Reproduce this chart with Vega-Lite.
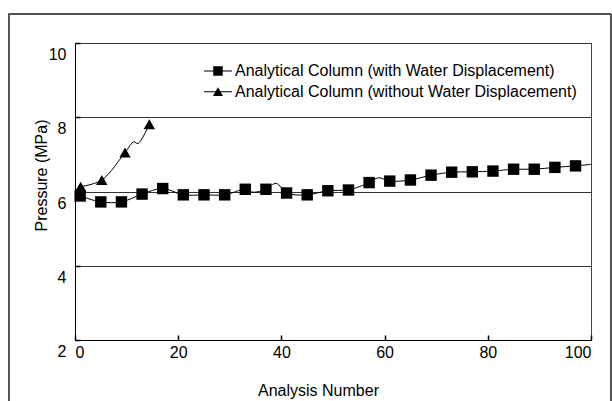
{
  "$schema": "https://vega.github.io/schema/vega-lite/v6.json",
  "width": 516,
  "height": 297,
  "autosize": {"type": "none"},
  "padding": {"left": 75, "top": 43, "right": 21, "bottom": 61},
  "background": "white",
  "config": {
    "font": "Liberation Sans",
    "view": {"stroke": "#444", "strokeWidth": 1},
    "axis": {
      "labelFont": "Liberation Sans",
      "titleFont": "Liberation Sans",
      "labelFontSize": 16,
      "titleFontSize": 16,
      "labelColor": "black",
      "titleColor": "black",
      "titleFontWeight": "normal",
      "domainColor": "black",
      "tickColor": "black",
      "labelOverlap": false
    }
  },
  "data": {
    "values": [
      {"series": "with", "n": 1, "p": 5.88, "m": 1},
      {"series": "with", "n": 5, "p": 5.72, "m": 1},
      {"series": "with", "n": 9, "p": 5.72, "m": 1},
      {"series": "with", "n": 13, "p": 5.93, "m": 1},
      {"series": "with", "n": 17, "p": 6.08, "m": 1},
      {"series": "with", "n": 21, "p": 5.91, "m": 1},
      {"series": "with", "n": 25, "p": 5.91, "m": 1},
      {"series": "with", "n": 29, "p": 5.91, "m": 1},
      {"series": "with", "n": 33, "p": 6.06, "m": 1},
      {"series": "with", "n": 34.5, "p": 5.98, "m": 0},
      {"series": "with", "n": 37, "p": 6.06, "m": 1},
      {"series": "with", "n": 39, "p": 6.22, "m": 0},
      {"series": "with", "n": 41, "p": 5.96, "m": 1},
      {"series": "with", "n": 45, "p": 5.91, "m": 1},
      {"series": "with", "n": 49, "p": 6.02, "m": 1},
      {"series": "with", "n": 53, "p": 6.04, "m": 1},
      {"series": "with", "n": 54.5, "p": 6.1, "m": 0},
      {"series": "with", "n": 57, "p": 6.24, "m": 1},
      {"series": "with", "n": 58.8, "p": 6.37, "m": 0},
      {"series": "with", "n": 61, "p": 6.28, "m": 1},
      {"series": "with", "n": 65, "p": 6.31, "m": 1},
      {"series": "with", "n": 69, "p": 6.44, "m": 1},
      {"series": "with", "n": 73, "p": 6.52, "m": 1},
      {"series": "with", "n": 77, "p": 6.53, "m": 1},
      {"series": "with", "n": 81, "p": 6.55, "m": 1},
      {"series": "with", "n": 85, "p": 6.6, "m": 1},
      {"series": "with", "n": 89, "p": 6.6, "m": 1},
      {"series": "with", "n": 93, "p": 6.65, "m": 1},
      {"series": "with", "n": 97, "p": 6.69, "m": 1},
      {"series": "with", "n": 100, "p": 6.73, "m": 0},
      {"series": "without", "n": 1.1, "p": 6.13, "m": 1},
      {"series": "without", "n": 5.2, "p": 6.31, "m": 1},
      {"series": "without", "n": 9.7, "p": 7.05, "m": 1},
      {"series": "without", "n": 11.4, "p": 7.34, "m": 0},
      {"series": "without", "n": 12.2, "p": 7.29, "m": 0},
      {"series": "without", "n": 14.4, "p": 7.81, "m": 1}
    ]
  },
  "layer": [
    {
      "mark": {"type": "rect", "fill": "transparent", "stroke": "#555", "strokeWidth": 1, "clip": false},
      "encoding": {
        "x": {"datum": -12.8, "type": "quantitative", "scale": {"domain": [0, 100], "nice": false, "zero": false}},
        "x2": {"datum": 103.8},
        "y": {"datum": 10.78, "type": "quantitative", "scale": {"domain": [2, 10], "nice": false, "zero": false}},
        "y2": {"datum": 0}
      }
    },
    {
      "mark": {"type": "line", "color": "black", "strokeWidth": 1, "interpolate": "catmull-rom"},
      "encoding": {
        "x": {
          "field": "n", "type": "quantitative",
          "scale": {"domain": [0, 100], "nice": false, "zero": false},
          "axis": {
            "values": [0, 20, 40, 60, 80, 100],
            "grid": false,
            "title": "Analysis Number",
            "tickSize": -5,
            "tickWidth": 1.5,
            "labelPadding": 9,
            "titleX": 243,
            "titleY": 55,
            "titleBaseline": "alphabetic"
          }
        },
        "y": {
          "field": "p", "type": "quantitative",
          "scale": {"domain": [2, 10], "nice": false, "zero": false},
          "axis": {
            "values": [2, 4, 6, 8, 10],
            "grid": true,
            "gridColor": "#333",
            "gridWidth": 1,
            "title": "Pressure (MPa)",
            "tickSize": -5,
            "tickWidth": 1.5,
            "labelPadding": 14,
            "labelOffset": 11.5,
            "titleX": -34,
            "titleY": 132,
            "titleBaseline": "middle"
          }
        },
        "detail": {"field": "series"}
      }
    },
    {
      "transform": [{"filter": "datum.m == 1 && datum.series == 'with'"}],
      "mark": {"type": "point", "shape": "square", "filled": true, "color": "black", "opacity": 1, "size": 130},
      "encoding": {
        "x": {"field": "n", "type": "quantitative", "scale": {"domain": [0, 100], "nice": false, "zero": false}},
        "y": {"field": "p", "type": "quantitative", "scale": {"domain": [2, 10], "nice": false, "zero": false}}
      }
    },
    {
      "transform": [{"filter": "datum.m == 1 && datum.series == 'without'"}],
      "mark": {"type": "point", "shape": "triangle-up", "filled": true, "color": "black", "opacity": 1, "size": 130},
      "encoding": {
        "x": {"field": "n", "type": "quantitative", "scale": {"domain": [0, 100], "nice": false, "zero": false}},
        "y": {"field": "p", "type": "quantitative", "scale": {"domain": [2, 10], "nice": false, "zero": false}}
      }
    },
    {
      "transform": [{"filter": "false"}],
      "mark": {"type": "point", "filled": true, "color": "black"},
      "encoding": {
        "x": {"field": "n", "type": "quantitative", "scale": {"domain": [0, 100], "nice": false, "zero": false}},
        "y": {"field": "p", "type": "quantitative", "scale": {"domain": [2, 10], "nice": false, "zero": false}},
        "shape": {
          "field": "series",
          "type": "nominal",
          "scale": {
            "domain": ["with", "without"],
            "range": [
              "M-2,-0.08L2,-0.08L2,0.08L-2,0.08ZM-0.68,-0.68L0.68,-0.68L0.68,0.68L-0.68,0.68Z",
              "M-2,-0.08L2,-0.08L2,0.08L-2,0.08ZM0,-0.64L0.72,0.6L-0.72,0.6Z"
            ]
          },
          "legend": {
            "title": null,
            "orient": "none",
            "legendX": 135,
            "legendY": 20,
            "symbolSize": 196,
            "symbolFillColor": "black",
            "symbolOpacity": 1,
            "labelFont": "Liberation Sans",
            "labelFontSize": 16,
            "labelColor": "black",
            "labelLimit": 0,
            "labelOffset": 9,
            "rowPadding": 4.7,
            "labelExpr": "datum.value === 'with' ? 'Analytical Column (with Water Displacement)' : 'Analytical Column (without Water Displacement)'"
          }
        }
      }
    }
  ]
}
